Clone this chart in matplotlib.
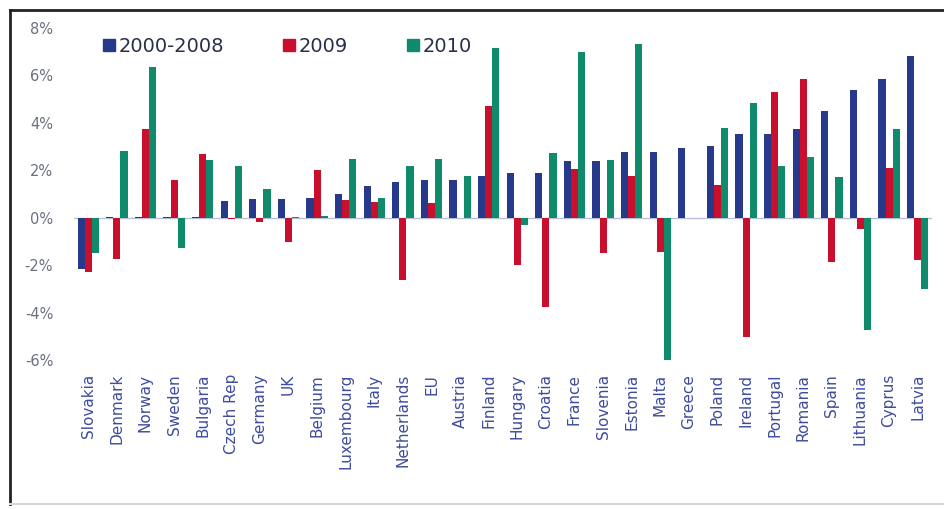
import matplotlib
matplotlib.use("Agg")
import matplotlib.pyplot as plt
import numpy as np
from matplotlib.lines import Line2D

countries = ["Slovakia", "Denmark", "Norway", "Sweden", "Bulgaria", "Czech Rep",
             "Germany", "UK", "Belgium", "Luxembourg", "Italy", "Netherlands", "EU",
             "Austria", "Finland", "Hungary", "Croatia", "France", "Slovenia",
             "Estonia", "Malta", "Greece", "Poland", "Ireland", "Portugal",
             "Romania", "Spain", "Lithuania", "Cyprus", "Latvia"]
s_2000_2008 = [-2.15, 0.05, 0.05, 0.05, 0.05, 0.70, 0.80, 0.80, 0.83, 0.98, 1.32,
               1.50, 1.57, 1.60, 1.78, 1.90, 1.90, 2.41, 2.41, 2.76, 2.76, 2.93,
               3.04, 3.54, 3.54, 3.72, 4.52, 5.39, 5.85, 6.83]
s_2009 = [-2.28, -1.73, 3.75, 1.57, 2.70, -0.05, -0.20, -1.02, 2.00, 0.76, 0.66,
          -2.64, 0.63, 0.0, 4.70, -2.00, -3.76, 2.06, -1.47, 1.78, -1.45, 0.0,
          1.40, -5.02, 5.29, 5.85, -1.87, -0.46, 2.09, -1.80]
s_2010 = [-1.50, 2.83, 6.35, -1.27, 2.42, 2.20, 1.22, 0.05, 0.08, 2.48, 0.83,
          2.16, 2.48, 1.78, 7.14, -0.32, 2.74, 6.97, 2.44, 7.33, -6.00, 0.0,
          3.77, 4.83, 2.20, 2.55, 1.71, -4.74, 3.75, -2.99]
series_names = ["2000-2008", "2009", "2010"]
yticks = [-6, -4, -2, 0, 2, 4, 6, 8]

colors = ["#26398a", "#c8102e", "#0f8a6a"]
label_color = "#3d4c9e"

fig = plt.figure(figsize=(9.44, 5.09), dpi=100)
ax = fig.add_axes([74/944, 1-360/509, (932-74)/944, (360-28)/509])

x = np.arange(len(countries))
w = 0.25
for i, (vals, c) in enumerate(zip([s_2000_2008, s_2009, s_2010], colors)):
    ax.bar(x + (i-1)*w, vals, width=w, color=c, label=series_names[i], zorder=2)

ax.axhline(0, color="#b8c0d8", lw=1, zorder=1)
ax.set_xlim(-0.5, len(countries)-0.5)
ax.set_ylim(-6, 8)
ax.set_yticks(yticks)
ax.set_yticklabels([f"{t}%" for t in yticks], color="#6a7080", fontsize=10.5)
ax.tick_params(axis="y", length=0, pad=15)
ax.set_xticks(x)
ax.set_xticklabels(countries, rotation=90, color=label_color, fontsize=11)
ax.tick_params(axis="x", length=0, pad=10)
for s in ax.spines.values():
    s.set_visible(False)

handles = [Line2D([], [], marker="s", ls="", color=c, markersize=8) for c in colors]
leg = ax.legend(handles, series_names, ncol=3, frameon=False,
                loc="upper left", bbox_to_anchor=(0.012, 1.025),
                fontsize=14, columnspacing=3.0, handletextpad=0.15,
                handlelength=0.7)
for t in leg.get_texts():
    t.set_color("#2a2f4a")

# outer frame
fig.add_artist(Line2D([10/944, 10/944], [1-10/509, 1-504/509], color="#222222", lw=2))
fig.add_artist(Line2D([10/944, 944/944], [1-10/509, 1-10/509], color="#222222", lw=2))
fig.add_artist(Line2D([10/944, 944/944], [1-504/509, 1-504/509], color="#d8d8d8", lw=1.5))

fig.savefig("out.png", dpi=100, facecolor="white")
